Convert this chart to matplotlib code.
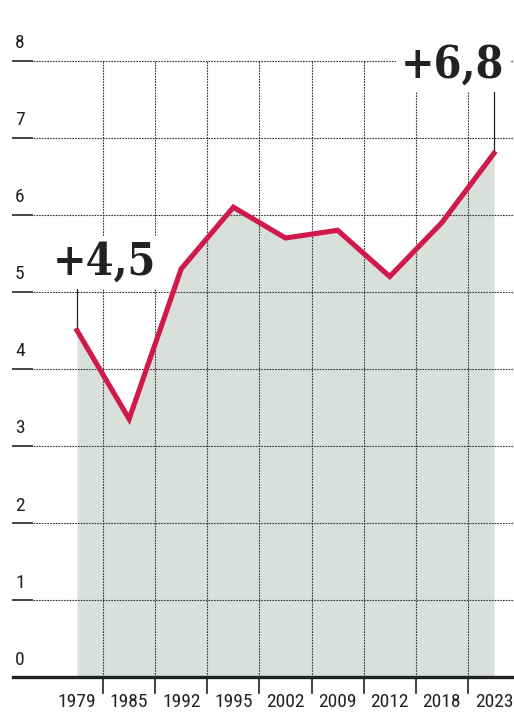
import matplotlib
matplotlib.use("Agg")
import matplotlib.pyplot as plt

# données
annees = ["1979", "1985", "1992", "1995", "2002", "2009", "2012", "2018", "2023"]
valeurs = [4.5, 3.35, 5.3, 6.1, 5.7, 5.8, 5.2, 5.9, 6.8]
graduations = [0, 1, 2, 3, 4, 5, 6, 7, 8]

rouge = "#cf1a4b"
fond = "#d9dfdb"
etroit = ["Roboto Condensed", "DejaVu Sans"]

fig = plt.figure(figsize=(5.14, 7.14), dpi=100)
ax = fig.add_axes([0, 0, 1, 1])
ax.set_xlim(-1.477, 8.384)
ax.set_ylim(-0.48, 8.79)
ax.axis("off")

x = list(range(len(annees)))

# grille horizontale pointillée + petits tirets à gauche
for g in graduations[1:]:
    ax.plot([-0.85, 8.384], [g, g], color="#333333", lw=0.8, ls=(0, (1.5, 1)), zorder=1)
    ax.plot([-1.23, -0.86], [g, g], color="#444444", lw=1.4, zorder=1)
for g in graduations:
    ax.text(-1.19, g + 0.11, str(g), fontsize=14, family=etroit, color="#222222",
            ha="left", va="bottom")

# grille verticale entre les années
for i in range(len(annees) - 1):
    ax.plot([i + 0.5, i + 0.5], [0, 8], color="#333333", lw=0.8, ls=(0, (1.5, 1)), zorder=1)
    ax.plot([i + 0.5, i + 0.5], [0, -0.21], color="#222222", lw=1.2, zorder=3)

ax.fill_between(x, 0, valeurs, color=fond, lw=0, zorder=0)
ax.plot(x, valeurs, color=rouge, lw=3.7, solid_joinstyle="miter", zorder=4)

# axe du bas
ax.plot([-1.23, 8.384], [0, 0], color="#222222", lw=2.4, zorder=5)
for i, a in enumerate(annees):
    ax.text(i, -0.21, a, fontsize=14, family=etroit, color="#222222", ha="center", va="top")

# étiquettes des extrémités
ax.plot([0, 0], [valeurs[0], valeurs[0] + 0.58], color="#222222", lw=0.9, zorder=3)
ax.plot([8, 8], [valeurs[-1], valeurs[-1] + 0.8], color="#222222", lw=0.9, zorder=3)
boite = dict(facecolor="white", edgecolor="none", pad=4)
ax.text(0.53, 5.22, "+4,5", fontsize=32, family="DejaVu Serif", fontstretch="condensed",
        fontweight="bold", color="#222222", ha="center", va="baseline", bbox=boite, zorder=6)
ax.text(7.21, 7.78, "+6,8", fontsize=32, family="DejaVu Serif", fontstretch="condensed",
        fontweight="bold", color="#222222", ha="center", va="baseline", bbox=boite, zorder=6)

fig.savefig("out.png", dpi=100)
